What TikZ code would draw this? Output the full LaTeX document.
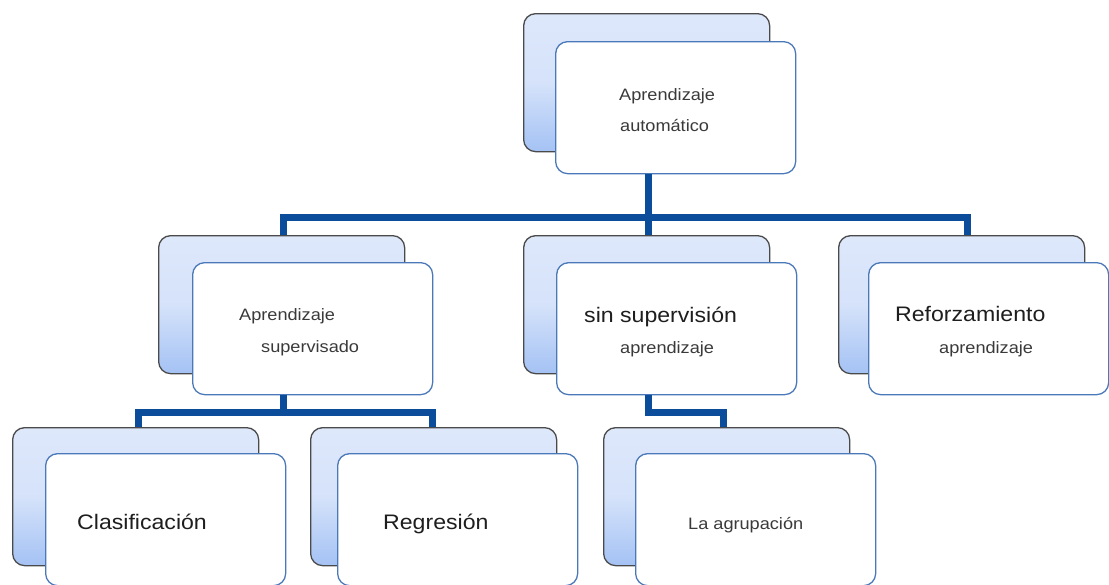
\documentclass[tikz,border=0pt]{standalone}
\usepackage{fontspec}
\setmainfont{Liberation Sans}[FakeStretch=1.1]
\definecolor{linkblue}{HTML}{0B4D9B}
\definecolor{frontedge}{HTML}{4A78B8}
\definecolor{backedge}{HTML}{4A4A4A}
\definecolor{shadetop}{HTML}{DEE8FB}
\definecolor{shadebot}{HTML}{A4C2F4}
\definecolor{smalltext}{HTML}{3A3A3A}
\definecolor{bigtext}{HTML}{1E1E1E}
\tikzset{
  backbox/.style={draw=backedge, line width=1.3pt, rounded corners=12pt,
    top color=shadetop, bottom color=shadebot, middle color=shadetop!85!shadebot,
    minimum width=246pt, minimum height=138pt, inner sep=0pt, anchor=north west},
  frontbox/.style={draw=frontedge, line width=1.3pt, rounded corners=12pt, fill=white,
    minimum width=240pt, minimum height=132pt, inner sep=0pt, anchor=north west},
  link/.style={draw=linkblue, line width=7pt},
  small/.style={anchor=base west, inner sep=0pt, text=smalltext,
    font=\fontsize{16.5}{19}\selectfont},
  big/.style={anchor=base west, inner sep=0pt, text=bigtext,
    font=\fontsize{21}{25}\selectfont},
}
\begin{document}
\begin{tikzpicture}[x=1pt,y=-1pt]
\useasboundingbox (0,0) rectangle (1109,584);
\clip (0,0) rectangle (1109,584);

% junction points of the tree links
\coordinate (hubM) at (648,217);
\coordinate (hubL) at (283,217);
\coordinate (hubR) at (967,217);
\coordinate (supM) at (283,412);
\coordinate (supL) at (138,412);
\coordinate (supR) at (432,412);
\coordinate (nsA) at (648,412);
\coordinate (nsB) at (723,412);

% root
\node[backbox] (rootB) at (523,13) {};
\node[frontbox] (root) at (555,41) {};

% second level
\node[backbox] (supB) at (158,235) {};
\node[frontbox] (sup) at (192,262) {};
\node[backbox] (unsB) at (523,235) {};
\node[frontbox] (uns) at (556,262) {};
\node[backbox] (refB) at (838,235) {};
\node[frontbox] (ref) at (868,262) {};

% third level
\node[backbox] (claB) at (12,427) {};
\node[frontbox] (cla) at (45,453) {};
\node[backbox] (regB) at (310,427) {};
\node[frontbox] (reg) at (337,453) {};
\node[backbox] (grpB) at (603,427) {};
\node[frontbox] (grp) at (635,453) {};

% tree links
\draw[link] (hubM |- root.south) -- (hubM) -- (hubM |- unsB.north);
\draw[link] (hubL |- supB.north) -- (hubL) -- (hubR) -- (hubR |- refB.north);
\draw[link] (supM |- sup.south) -- (supM);
\draw[link] (supL |- claB.north) -- (supL) -- (supR) -- (supR |- regB.north);
\draw[link] (nsA |- uns.south) -- (nsA) -- (nsB) -- (nsB |- grpB.north);

% labels
\node[small] (t1) at (619,100) {Aprendizaje};
\node[small] (t2) at (620,131) {automático};
\node[small] (t3) at (239,320) {Aprendizaje};
\node[small] (t4) at (261,352) {supervisado};
\node[big]   (t5) at (584,322) {sin supervisión};
\node[small] (t6) at (620,353) {aprendizaje};
\node[big]   (t7) at (895,321) {Reforzamiento};
\node[small] (t8) at (939,353) {aprendizaje};
\node[big]   (t9) at (77,529) {Clasificación};
\node[big]   (t10) at (383,529) {Regresión};
\node[small] (t11) at (688,529) {La agrupación};
\end{tikzpicture}
\end{document}
